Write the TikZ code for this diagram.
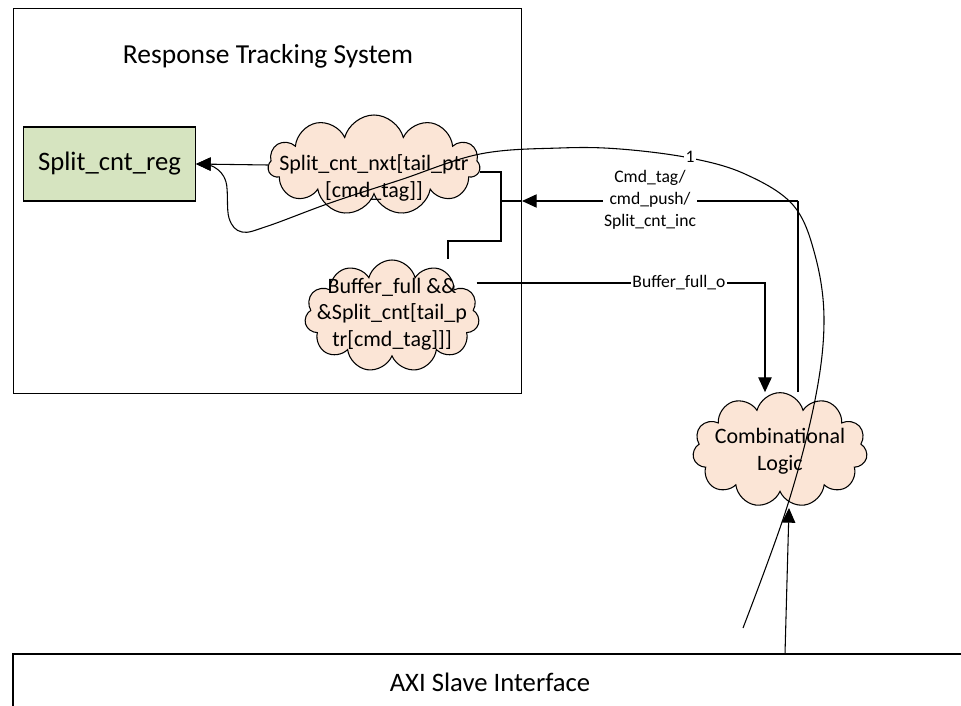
\documentclass[tikz,border=0pt]{standalone}
\usepackage{fontspec}
\setmainfont{Carlito}
\usetikzlibrary{shapes.symbols,arrows.meta,calc}
\definecolor{regfill}{HTML}{D6E4C0}
\definecolor{cloudfill}{HTML}{FBE5D6}
\tikzset{
  tip/.style={-{Triangle[length=11pt,width=10pt]}},
  cloudnode/.style={cloud, cloud puffs=11, cloud ignores aspect, draw, fill=cloudfill, inner sep=0pt},
  cloudtext/.style={align=center, font=\fontsize{16.5}{20}\selectfont, inner sep=0pt},
  smalllabel/.style={fill=white, inner sep=1pt, align=center, font=\fontsize{13.2}{16.5}\selectfont},
  bigtext/.style={font=\fontsize{20}{24}\selectfont}
}
\begin{document}
\begin{tikzpicture}[x=0.75pt, y=-0.75pt, line width=0.8pt]
\useasboundingbox (0,0) rectangle (961,706);
% Response tracking system box
\node (rts) [draw, anchor=north west, minimum width=381pt, minimum height=289pt, inner sep=0pt] at (13,8) {};
\node (title) [font=\fontsize{20.6}{24}\selectfont] at (268,56) {Response Tracking System};
% register
\node (reg) [draw, fill=regfill, minimum width=129pt, minimum height=55.5pt, bigtext] at (109.5,164) {Split\_cnt\_reg};
% clouds
\node (c1) [cloudnode, minimum width=159pt, minimum height=75pt] at (374,165) {};
\node (c1t) [cloudtext] at (374,178) {Split\_cnt\_nxt[tail\_ptr\\{[cmd\_tag]]}};
\node (c2) [cloudnode, minimum width=131pt, minimum height=84pt] at (392,316) {};
\node (c2t) [cloudtext] at (392,314) {Buffer\_full \&\&\\\&Split\_cnt[tail\_p\\tr[cmd\_tag]]]};
\node (comb) [cloudnode, minimum width=131pt, minimum height=86pt] at (780,450) {};
\node (combt) [cloudtext] at (780,451) {Combinational\\Logic};
% AXI box
\draw (961,654) -- (13,654) -- (13,706);
\node (axi) [bigtext] at (490,682) {AXI Slave Interface};
% coordinates
\coordinate (ja) at (501,172);
\coordinate (j1) at (501,201);
\coordinate (jb) at (501,241);
\coordinate (jc) at (448,241);
\coordinate (k1) at (798,201);
\coordinate (bf) at (765,283);
\coordinate (ax) at (785,654);
\coordinate (axe) at (789,508);
\coordinate (curvestart) at (743,628);
% c1 -> reg
\draw[tip] (c1.west) -- (reg.east);
% c1 / c2 junction
\draw (c1.east |- ja) -- (ja) -- (jb) -- (jc) -- (jc |- c2.north);
% cmd line
\draw (k1 |- comb.north) -- (k1);
\draw[tip] (k1) -- (rts.east |- k1);
\draw (rts.east |- k1) -- (j1);
\node[smalllabel] at (650,200) {Cmd\_tag/\\cmd\_push/\\Split\_cnt\_inc};
% buffer full
\draw[tip] ($(c2.east |- bf)+(-2,0)$) -- (bf) -- (bf |- comb.north);
\node[smalllabel] at (679,283) {Buffer\_full\_o};
% AXI -> comb
\draw[tip] (ax) -- (axe);
% big curve
\draw[tip] plot[smooth, tension=0.6] coordinates {(curvestart) (787,507) (815,400) (824,320) (815,255) (793,205) (745,174) (690,158) (620,149) (560,148) (480,154) (400,180) (330,203) (268,226) (242,232) (229,218) (226,182) (214,167) (reg.east)};
\node[smalllabel] at (690,157) {1};
\end{tikzpicture}
\end{document}
